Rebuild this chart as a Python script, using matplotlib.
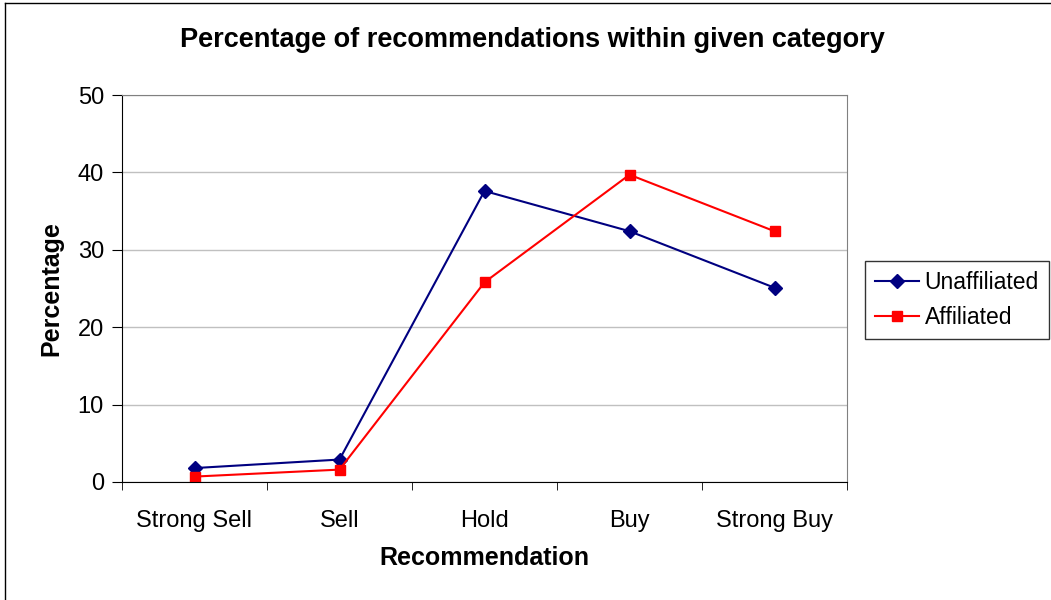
import numpy as np
import matplotlib
matplotlib.use("Agg")
import matplotlib.pyplot as plt
from matplotlib.lines import Line2D

plt.rcParams['font.family'] = ['Liberation Sans', 'DejaVu Sans']

categories = ["Strong Sell", "Sell", "Hold", "Buy", "Strong Buy"]
unaffiliated = [1.8, 2.9, 37.6, 32.4, 25.1]
affiliated = [0.7, 1.6, 25.8, 39.7, 32.4]
y_ticks = [0, 10, 20, 30, 40, 50]

W, H = 1051, 600
fig = plt.figure(figsize=(W / 100, H / 100), dpi=100)
ax = fig.add_axes([122 / W, 1 - 482 / H, 725 / W, 387 / H])

x = np.arange(len(categories))
ax.plot(x, unaffiliated, color='#000080', marker='D', markersize=7, lw=1.5, label='Unaffiliated')
ax.plot(x, affiliated, color='#FF0000', marker='s', markersize=7, lw=1.5, label='Affiliated')

ax.set_xlim(-0.5, len(categories) - 0.5)
ax.set_ylim(0, 50)
ax.set_yticks(y_ticks)
ax.set_xticks(x)
ax.set_xticklabels(categories, fontsize=17)
# tick marks sit between categories
ax.set_xticks(np.arange(-0.5, len(categories)), minor=True)
ax.tick_params(axis='x', which='major', length=0, pad=20)
ax.tick_params(axis='x', which='minor', length=6, direction='out')
ax.tick_params(axis='y', labelsize=17, length=7, direction='out', pad=6)
ax.yaxis.grid(True, color='#c0c0c0', lw=1)
ax.set_axisbelow(True)

for side in ['top', 'right']:
    ax.spines[side].set_color('#808080')
for side in ['left', 'bottom']:
    ax.spines[side].set_color('black')

fig.text(532.5 / W, 1 - 47 / H, "Percentage of recommendations within given category",
         fontsize=19.5, fontweight='bold', ha='center', va='baseline')
ax.set_xlabel("Recommendation", fontsize=18, fontweight='bold', labelpad=10)
ax.set_ylabel("Percentage", fontsize=18, fontweight='bold', labelpad=10)

leg = fig.legend(loc='upper left', bbox_to_anchor=(865 / W, 1 - 261 / H), fontsize=16.5,
                 frameon=True, fancybox=False, edgecolor='black', borderaxespad=0,
                 handlelength=1.9, handletextpad=0.25, borderpad=0.45, labelspacing=0.5)
leg.get_frame().set_linewidth(1)

# outer chart border (only left and top edges are visible in the crop)
fig.add_artist(Line2D([4.5 / W, 4.5 / W], [0, 1 - 3 / H], transform=fig.transFigure, color='black', lw=1))
fig.add_artist(Line2D([4.5 / W, 1], [1 - 3 / H, 1 - 3 / H], transform=fig.transFigure, color='black', lw=1))

fig.savefig("out.png", dpi=100)
